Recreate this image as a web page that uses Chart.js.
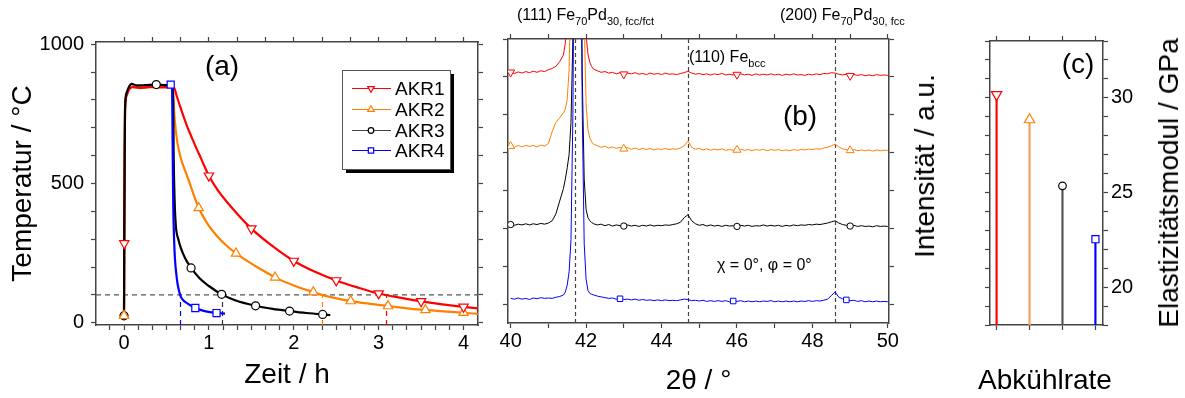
<!DOCTYPE html>
<html>
<head>
<meta charset="utf-8">
<script src="https://cdn.jsdelivr.net/npm/chart.js@4.4.1/dist/chart.umd.min.js"></script>
<style>
  body { margin: 0; background: #fff; }
  #figure { position: relative; width: 1185px; height: 398px; overflow: hidden; font-family: 'Liberation Sans', Arial, sans-serif; color: #000; }
  #figure canvas { position: absolute; top: 0; }
  .note { position: absolute; white-space: nowrap; line-height: 1; font-size: 16px; }
  .note sub { font-size: 11px; vertical-align: -5px; line-height: 0; }
  .tag { position: absolute; font-size: 28px; line-height: 1; white-space: nowrap; transform: translate(-50%, -50%); }
  .vtitle { position: absolute; font-size: 28px; line-height: 1; white-space: nowrap; transform: translate(-50%, -50%) rotate(-90deg); }
</style>
</head>
<body>
<div id="figure">
  <canvas id="temp-chart" width="490" height="398" style="left:0"></canvas>
  <canvas id="xrd-chart" width="410" height="398" style="left:490px"></canvas>
  <canvas id="modulus-chart" width="285" height="398" style="left:900px"></canvas>

  <div class="tag" style="left:222px;top:66px">(a)</div>
  <div class="tag" style="left:800px;top:116px">(b)</div>
  <div class="tag" style="left:1078px;top:64px">(c)</div>

  <div class="note" style="left:517px;top:7px">(111) Fe<sub>70</sub>Pd<sub>30, fcc/fct</sub></div>
  <div class="note" style="left:780px;top:7px">(200) Fe<sub>70</sub>Pd<sub>30, fcc</sub></div>
  <div class="note" style="left:689px;top:49px">(110) Fe<sub>bcc</sub></div>
  <div class="note" style="left:717px;top:257px">&chi; = 0°, &phi; = 0°</div>

  <div class="vtitle" style="left:925px;top:166px">Intensität / a.u.</div>
  <div class="vtitle" style="left:1169px;top:183px">Elastizitätsmodul / GPa</div>
  <div class="tag" style="left:1045px;top:380px">Abkühlrate</div>
</div>

<script>
// ---- (a) temperature profiles ----
const seriesNames = ['AKR1', 'AKR2', 'AKR3', 'AKR4'];
const seriesColors = ['#ff0000', '#ff8000', '#000000', '#0000ff'];

const akr1Time = [0, 0.003, 0.008, 0.012, 0.03, 0.06, 0.1, 0.2, 0.3, 0.4,
    0.5, 0.58, 0.62, 0.66, 0.7, 0.75, 0.8, 0.85, 0.9, 0.95,
    1.0, 1.1, 1.25, 1.5, 1.75, 2.0, 2.25, 2.5, 2.75, 3.0,
    3.25, 3.5, 3.75, 4.0, 4.17];
const akr1Temp = [25, 285, 600, 760, 815, 838, 846, 843, 846, 845,
    846, 850, 815, 778, 742, 700, 664, 628, 595, 560,
    528, 478, 420, 338, 275, 222, 183, 152, 127, 105,
    90, 77, 66, 57, 52];
const akr1Marks = [0.003, 1.0, 1.5, 2.0, 2.5, 3.0, 3.5, 4.0];

const akr2Time = [0, 0.003, 0.008, 0.012, 0.03, 0.06, 0.1, 0.2, 0.3, 0.4,
    0.5, 0.575, 0.585, 0.6, 0.63, 0.67, 0.74, 0.8, 0.88, 0.95,
    1.0, 1.1, 1.2, 1.32, 1.45, 1.6, 1.78, 2.0, 2.23, 2.33,
    2.45, 2.67, 2.9, 3.11, 3.33, 3.55, 3.8, 4.0, 4.17];
const akr2Temp = [25, 290, 610, 765, 818, 840, 848, 850, 848, 850,
    845, 848, 790, 720, 645, 590, 530, 478, 412, 372,
    348, 310, 279, 249, 222, 194, 163, 134, 110, 100,
    91, 78, 68, 60, 52, 46, 40, 36, 32];
const akr2Marks = [0, 0.88, 1.32, 1.78, 2.23, 2.67, 3.11, 3.55, 4.0];

const akr3Time = [0, 0.003, 0.008, 0.012, 0.03, 0.06, 0.09, 0.15, 0.25, 0.38,
    0.5, 0.575, 0.58, 0.585, 0.595, 0.61, 0.64, 0.67, 0.72, 0.79,
    0.89, 1.0, 1.15, 1.3, 1.55, 1.75, 1.95, 2.15, 2.34, 2.43];
const akr3Temp = [25, 300, 620, 770, 825, 848, 858, 852, 853, 855,
    853, 853, 780, 600, 450, 350, 300, 268, 232, 197,
    160, 132, 102, 82, 61, 50, 42, 35, 30, 28];
const akr3Marks = [0, 0.38, 0.79, 1.15, 1.55, 1.95, 2.34];

const akr4Time = [0.55, 0.565, 0.57, 0.575, 0.58, 0.59, 0.6, 0.62, 0.63, 0.65,
    0.67, 0.7, 0.75, 0.84, 0.95, 1.09, 1.19];
const akr4Temp = [855, 855, 750, 560, 420, 300, 230, 165, 141, 112,
    93, 80, 69, 53, 42, 35, 33];
const akr4Marks = [0.55, 0.84, 1.09];

const thresholdTemp = 100;
const crossTimes = [0.66, 1.16, 2.33, 3.09];
const crossColors = ['#0000ff', '#333333', '#ff8000', '#ff0000'];

const timeTicks = [-0.167, 0, 0.167, 0.333, 0.5, 0.667, 0.833, 1, 1.167, 1.333, 1.5, 1.667, 1.833,
    2, 2.167, 2.333, 2.5, 2.667, 2.833, 3, 3.167, 3.333, 3.5, 3.667, 3.833, 4];
const timeTicksTop = [0, 0.333, 0.667, 1, 1.333, 1.667, 2, 2.333, 2.667, 3, 3.333, 3.667, 4];
const timeLabels = [0, 1, 2, 3, 4];
const tempTicks = [0, 100, 200, 300, 400, 500, 600, 700, 800, 900, 1000];
const tempLabels = [0, 500, 1000];

// ---- (b) XRD scans ----
const twoTheta = [40.0, 40.1, 40.2, 40.3, 40.4, 40.5, 40.6, 40.7, 40.8, 40.9,
    41.0, 41.1, 41.2, 41.3, 41.4, 41.45, 41.5, 41.55, 41.6, 41.65,
    41.7, 41.75, 41.8, 41.85, 41.9, 41.95, 42.0, 42.05, 42.1, 42.15,
    42.2, 42.3, 42.4, 42.5, 42.6, 42.7, 42.8, 42.9, 43.0, 43.1,
    43.2, 43.3, 43.4, 43.5, 43.6, 43.7, 43.8, 43.9, 44.0, 44.1,
    44.2, 44.3, 44.4, 44.5, 44.6, 44.7, 44.8, 44.9, 45.0, 45.1,
    45.2, 45.3, 45.4, 45.5, 45.6, 45.7, 45.8, 45.9, 46.0, 46.1,
    46.2, 46.3, 46.4, 46.5, 46.6, 46.7, 46.8, 46.9, 47.0, 47.1,
    47.2, 47.3, 47.4, 47.5, 47.6, 47.7, 47.8, 47.9, 48.0, 48.1,
    48.2, 48.3, 48.4, 48.5, 48.6, 48.7, 48.8, 48.9, 49.0, 49.1,
    49.2, 49.3, 49.4, 49.5, 49.6, 49.7, 49.8, 49.9, 50.0];

const xrdAkr1 = [6.12, 6.09, 6.13, 6.10, 6.14, 6.11, 6.15, 6.12, 6.16, 6.14,
    6.19, 6.22, 6.28, 6.40, 6.58, 6.9, 7.6, 9.0, 12.0, 15.0,
    16.0, 16.0, 15.0, 13.0, 10.5, 8.4, 7.1, 6.6, 6.38, 6.27,
    6.20, 6.16, 6.12, 6.14, 6.10, 6.12, 6.08, 6.11, 6.07, 6.10,
    6.08, 6.11, 6.07, 6.09, 6.06, 6.10, 6.07, 6.09, 6.06, 6.10,
    6.07, 6.08, 6.06, 6.09, 6.11, 6.15, 6.10, 6.07, 6.09, 6.06,
    6.08, 6.05, 6.08, 6.06, 6.09, 6.05, 6.07, 6.05, 6.06, 6.08,
    6.05, 6.07, 6.04, 6.08, 6.05, 6.07, 6.05, 6.08, 6.05, 6.07,
    6.04, 6.07, 6.05, 6.08, 6.05, 6.06, 6.04, 6.07, 6.05, 6.08,
    6.06, 6.09, 6.08, 6.11, 6.10, 6.07, 6.05, 6.07, 6.03, 6.06,
    6.04, 6.06, 6.03, 6.05, 6.03, 6.06, 6.04, 6.05, 6.04];
const xrdAkr2 = [4.17, 4.14, 4.19, 4.15, 4.19, 4.16, 4.19, 4.15, 4.20, 4.17,
    4.24, 4.55, 4.80, 4.92, 5.05, 5.15, 5.40, 6.2, 8.5, 11.0,
    13.0, 14.0, 13.5, 12.0, 10.0, 7.5, 5.3, 4.6, 4.38, 4.28,
    4.22, 4.18, 4.14, 4.17, 4.12, 4.15, 4.11, 4.14, 4.10, 4.13,
    4.09, 4.12, 4.08, 4.11, 4.08, 4.11, 4.07, 4.10, 4.08, 4.11,
    4.08, 4.10, 4.09, 4.12, 4.18, 4.30, 4.14, 4.09, 4.11, 4.07,
    4.10, 4.06, 4.09, 4.07, 4.10, 4.06, 4.08, 4.06, 4.07, 4.09,
    4.06, 4.08, 4.05, 4.08, 4.06, 4.09, 4.05, 4.08, 4.06, 4.08,
    4.05, 4.07, 4.05, 4.08, 4.06, 4.08, 4.07, 4.09, 4.08, 4.10,
    4.09, 4.12, 4.14, 4.18, 4.22, 4.15, 4.10, 4.08, 4.06, 4.08,
    4.05, 4.07, 4.05, 4.07, 4.04, 4.07, 4.05, 4.06, 4.06];
const xrdAkr3 = [2.10, 2.08, 2.11, 2.09, 2.12, 2.09, 2.12, 2.10, 2.13, 2.11,
    2.14, 2.20, 2.38, 2.72, 3.05, 3.30, 3.60, 3.95, 4.8, 7.0,
    11.0, 15.0, 15.0, 11.0, 6.0, 3.3, 2.5, 2.28, 2.20, 2.15,
    2.12, 2.09, 2.11, 2.07, 2.10, 2.06, 2.09, 2.07, 2.06, 2.09,
    2.06, 2.08, 2.05, 2.08, 2.06, 2.09, 2.06, 2.08, 2.07, 2.09,
    2.08, 2.10, 2.12, 2.16, 2.28, 2.36, 2.20, 2.12, 2.08, 2.10,
    2.06, 2.09, 2.06, 2.08, 2.05, 2.08, 2.06, 2.07, 2.05, 2.08,
    2.06, 2.08, 2.05, 2.07, 2.06, 2.09, 2.06, 2.08, 2.06, 2.08,
    2.05, 2.08, 2.06, 2.09, 2.07, 2.09, 2.08, 2.10, 2.09, 2.11,
    2.10, 2.12, 2.14, 2.17, 2.20, 2.14, 2.10, 2.08, 2.06, 2.08,
    2.05, 2.07, 2.05, 2.06, 2.04, 2.07, 2.05, 2.06, 2.05];
const xrdAkr4 = [0.15, 0.13, 0.16, 0.13, 0.15, 0.12, 0.16, 0.14, 0.17, 0.15,
    0.16, 0.15, 0.18, 0.20, 0.24, 0.32, 0.50, 0.85, 1.7, 5.0,
    12.0, 16.0, 15.0, 11.0, 5.0, 1.6, 0.66, 0.36, 0.28, 0.26,
    0.24, 0.21, 0.19, 0.17, 0.15, 0.16, 0.13, 0.14, 0.12, 0.13,
    0.11, 0.13, 0.10, 0.12, 0.10, 0.11, 0.09, 0.11, 0.09, 0.11,
    0.09, 0.10, 0.09, 0.11, 0.13, 0.12, 0.09, 0.10, 0.08, 0.10,
    0.07, 0.09, 0.07, 0.09, 0.07, 0.09, 0.06, 0.08, 0.07, 0.09,
    0.06, 0.08, 0.06, 0.08, 0.06, 0.08, 0.07, 0.09, 0.06, 0.08,
    0.06, 0.08, 0.06, 0.08, 0.06, 0.08, 0.07, 0.09, 0.07, 0.09,
    0.08, 0.10, 0.13, 0.22, 0.32, 0.18, 0.14, 0.11, 0.09, 0.10,
    0.07, 0.09, 0.06, 0.08, 0.06, 0.08, 0.06, 0.07, 0.06];
const xrdMarks = [[40.0, 43.0, 46.0, 49.0], [40.0, 43.0, 46.0, 49.0], [40.0, 43.0, 46.0, 49.0], [42.9, 45.9, 48.9]];

const peakLines = [41.7, 44.7, 48.6];
const thetaTicks = [40, 41, 42, 43, 44, 45, 46, 47, 48, 49, 50];
const thetaLabels = [40, 42, 44, 46, 48, 50];
const intensityTicks = [0, 1, 2, 3, 4, 5, 6, 7];

// ---- (c) Young's modulus ----
const rateIndex = [0, 1, 2, 3];
const modulus = [30.17, 28.84, 25.35, 22.53];
const stemColors = ['#ff0000', '#f5a05a', '#555555', '#0000ff'];
const modulusTicks = [18, 19, 20, 21, 22, 23, 24, 25, 26, 27, 28, 29, 30, 31, 32, 33];
const modulusLabels = [20, 25, 30];

const markerStyles = ['triangle', 'triangle', 'circle', 'rect'];
const markerRotations = [180, 0, 0, 0];

Chart.defaults.font.family = "'Liberation Sans', Arial, sans-serif";
Chart.defaults.color = '#000';

const toPoints = (xs, ys) => xs.map((x, i) => ({ x: x, y: ys[i] }));
const pickPoints = (marks, xs, ys) => marks.map(m => ({ x: m, y: ys[xs.indexOf(m)] }));

function axis(cfg) {
    return {
        type: 'linear',
        position: cfg.position,
        min: cfg.min,
        max: cfg.max,
        offset: false,
        afterFit: s => {
            if (s.isHorizontal()) s.height = cfg.size; else s.width = cfg.size;
        },
        afterBuildTicks: s => { s.ticks = cfg.ticks.map(v => ({ value: v })); },
        grid: { drawOnChartArea: false, drawTicks: true, tickLength: 5, tickColor: '#444', tickWidth: 1.2, offset: false },
        border: { display: true, color: '#444', width: 1.5 },
        ticks: {
            autoSkip: false,
            maxRotation: 0,
            padding: cfg.padding == null ? 3 : cfg.padding,
            color: '#000',
            font: { size: 20 },
            callback: v => (cfg.labels || []).includes(v) ? String(v) : ''
        },
        title: cfg.title ? {
            display: true,
            text: cfg.title,
            color: '#000',
            font: { size: 28 },
            padding: cfg.titlePadding
        } : { display: false }
    };
}

const guideLines = {
    id: 'guideLines',
    beforeDatasetsDraw(chart, args, opts) {
        const { ctx, chartArea: area, scales } = chart;
        const xs = scales.x, ys = scales.y;
        ctx.save();
        ctx.beginPath();
        ctx.rect(area.left, area.top, area.width, area.height);
        ctx.clip();
        ctx.lineWidth = 1.2;
        ctx.setLineDash(opts.dash || [5, 4]);
        const stop = opts.level != null ? ys.getPixelForValue(opts.level) : area.top;
        (opts.verticals || []).forEach((v, i) => {
            const px = Math.round(xs.getPixelForValue(v)) + 0.5;
            ctx.strokeStyle = (opts.colors || [])[i] || opts.color;
            ctx.beginPath();
            ctx.moveTo(px, area.bottom);
            ctx.lineTo(px, stop);
            ctx.stroke();
        });
        if (opts.level != null) {
            ctx.strokeStyle = opts.color;
            ctx.beginPath();
            ctx.moveTo(area.left, stop);
            ctx.lineTo(area.right, stop);
            ctx.stroke();
        }
        ctx.restore();
    }
};

const legendBox = {
    id: 'legendBox',
    afterDatasetsDraw(chart, args, opts) {
        const ctx = chart.ctx;
        const { left, top, width, height, rowGap, items } = opts;
        ctx.save();
        ctx.setLineDash([]);
        ctx.fillStyle = '#000';
        ctx.fillRect(left + 4, top + 4, width, height);
        ctx.fillStyle = '#fff';
        ctx.fillRect(left, top, width, height);
        ctx.strokeStyle = '#555';
        ctx.lineWidth = 1;
        ctx.strokeRect(left + 0.5, top + 0.5, width, height);
        ctx.font = "19px 'Liberation Sans', Arial, sans-serif";
        ctx.textBaseline = 'middle';
        items.forEach((it, i) => {
            const cy = Math.round(top + 18 + i * rowGap) + 0.5;
            ctx.strokeStyle = it.lineColor;
            ctx.lineWidth = 1.2;
            ctx.beginPath();
            ctx.moveTo(left + 10, cy);
            ctx.lineTo(left + 49, cy);
            ctx.stroke();
            ctx.fillStyle = '#fff';
            ctx.strokeStyle = it.color;
            Chart.helpers.drawPoint(ctx, { pointStyle: it.style, radius: it.radius, rotation: it.rotation, borderWidth: 1 }, left + 29, cy);
            ctx.fillStyle = '#000';
            ctx.fillText(it.label, left + 53, cy + 1);
        });
        ctx.restore();
    }
};

// ---------- chart (a) ----------
const tempSeries = [
    { time: akr1Time, temp: akr1Temp, marks: akr1Marks },
    { time: akr2Time, temp: akr2Temp, marks: akr2Marks },
    { time: akr3Time, temp: akr3Temp, marks: akr3Marks },
    { time: akr4Time, temp: akr4Temp, marks: akr4Marks }
];
const tempRadius = [5.4, 5.4, 4, 5];

const tempMarkerSets = tempSeries.map((s, i) => ({
    label: seriesNames[i] + ' marks',
    data: pickPoints(s.marks, s.time, s.temp),
    showLine: false,
    pointStyle: markerStyles[i],
    rotation: markerRotations[i],
    pointRadius: tempRadius[i],
    pointBorderWidth: 1.2,
    pointBorderColor: seriesColors[i],
    pointBackgroundColor: '#fff',
    order: 0
}));
const lineOrder = [3, 4, 2, 1];
const tempLineSets = tempSeries.map((s, i) => ({
    label: seriesNames[i],
    data: toPoints(s.time, s.temp),
    showLine: true,
    borderColor: seriesColors[i],
    borderWidth: 2.2,
    pointRadius: 0,
    cubicInterpolationMode: 'monotone',
    order: lineOrder[i]
}));

new Chart(document.getElementById('temp-chart'), {
    type: 'scatter',
    data: { datasets: tempMarkerSets.concat(tempLineSets) },
    options: {
        responsive: false,
        animation: false,
        events: [],
        layout: { padding: 0 },
        plugins: {
            legend: { display: false },
            tooltip: { enabled: false },
            guideLines: { level: thresholdTemp, color: '#555', verticals: crossTimes, colors: crossColors },
            legendBox: {
                left: 342, top: 70, width: 108, height: 99, rowGap: 20.8,
                items: seriesNames.map((n, i) => ({
                    label: n,
                    color: seriesColors[i],
                    lineColor: i === 2 ? '#444' : seriesColors[i],
                    style: markerStyles[i],
                    rotation: markerRotations[i],
                    radius: i === 2 ? 2.8 : 3.8
                }))
            }
        },
        scales: {
            x: axis({ position: 'bottom', min: -0.33, max: 4.17, size: 73, ticks: timeTicks, labels: timeLabels,
                padding: 1, title: 'Zeit / h', titlePadding: { top: 0, bottom: 6 } }),
            x2: axis({ position: 'top', min: -0.33, max: 4.17, size: 42, ticks: timeTicksTop }),
            y: axis({ position: 'left', min: -8, max: 1008, size: 96, ticks: tempTicks, labels: tempLabels,
                padding: 7, title: 'Temperatur / °C', titlePadding: { top: 6, bottom: 0 } }),
            y2: axis({ position: 'right', min: -8, max: 1008, size: 12, ticks: tempTicks })
        }
    },
    plugins: [guideLines, legendBox]
});

// ---------- chart (b) ----------
const xrdSeries = [xrdAkr1, xrdAkr2, xrdAkr3, xrdAkr4];
const xrdRadius = [4.6, 4.6, 3.2, 3.9];

const xrdMarkerSets = xrdSeries.map((ys, i) => ({
    label: seriesNames[i] + ' marks',
    data: pickPoints(xrdMarks[i], twoTheta, ys),
    showLine: false,
    pointStyle: markerStyles[i],
    rotation: markerRotations[i],
    pointRadius: xrdRadius[i],
    pointBorderWidth: 1,
    pointBorderColor: seriesColors[i],
    pointBackgroundColor: '#fff'
}));
const xrdLineSets = xrdSeries.map((ys, i) => ({
    label: seriesNames[i],
    data: toPoints(twoTheta, ys),
    showLine: true,
    borderColor: seriesColors[i],
    borderWidth: 1,
    pointRadius: 0,
    tension: 0
}));

new Chart(document.getElementById('xrd-chart'), {
    type: 'scatter',
    data: { datasets: xrdMarkerSets.concat(xrdLineSets.slice().reverse()) },
    options: {
        responsive: false,
        animation: false,
        events: [],
        layout: { padding: 0 },
        plugins: {
            legend: { display: false },
            tooltip: { enabled: false },
            guideLines: { color: '#444', verticals: peakLines, dash: [4, 3] }
        },
        scales: {
            x: axis({ position: 'bottom', min: 39.93, max: 50.03, size: 75, ticks: thetaTicks, labels: thetaLabels,
                padding: 1, title: '2θ / °', titlePadding: { top: 0, bottom: 0 } }),
            x2: axis({ position: 'top', min: 39.93, max: 50.03, size: 39, ticks: thetaTicks }),
            y: axis({ position: 'left', min: -0.5, max: 7, size: 18, ticks: intensityTicks }),
            y2: axis({ position: 'right', min: -0.5, max: 7, size: 11, ticks: intensityTicks })
        }
    },
    plugins: [guideLines]
});

// ---------- chart (c) ----------
new Chart(document.getElementById('modulus-chart'), {
    type: 'scatter',
    data: {
        datasets: [
            {
                label: 'E-Modul',
                data: toPoints(rateIndex, modulus),
                showLine: false,
                pointStyle: markerStyles,
                rotation: markerRotations,
                pointRadius: [6, 6, 3.8, 5],
                pointBorderWidth: 1.2,
                pointBorderColor: seriesColors,
                pointBackgroundColor: '#fff'
            },
            {
                type: 'bar',
                label: 'stems',
                data: toPoints(rateIndex, modulus),
                backgroundColor: stemColors,
                barThickness: 1.5,
                grouped: false
            }
        ]
    },
    options: {
        responsive: false,
        animation: false,
        events: [],
        layout: { padding: 0 },
        plugins: { legend: { display: false }, tooltip: { enabled: false } },
        scales: {
            x: axis({ position: 'bottom', min: -0.2, max: 3.23, size: 73, ticks: rateIndex }),
            x2: axis({ position: 'top', min: -0.2, max: 3.23, size: 41, ticks: rateIndex }),
            y: axis({ position: 'left', min: 18, max: 33, size: 90, ticks: modulusTicks }),
            y2: axis({ position: 'right', min: 18, max: 33, size: 82, ticks: modulusTicks, labels: modulusLabels, padding: 3 })
        }
    }
});
</script>
</body>
</html>
